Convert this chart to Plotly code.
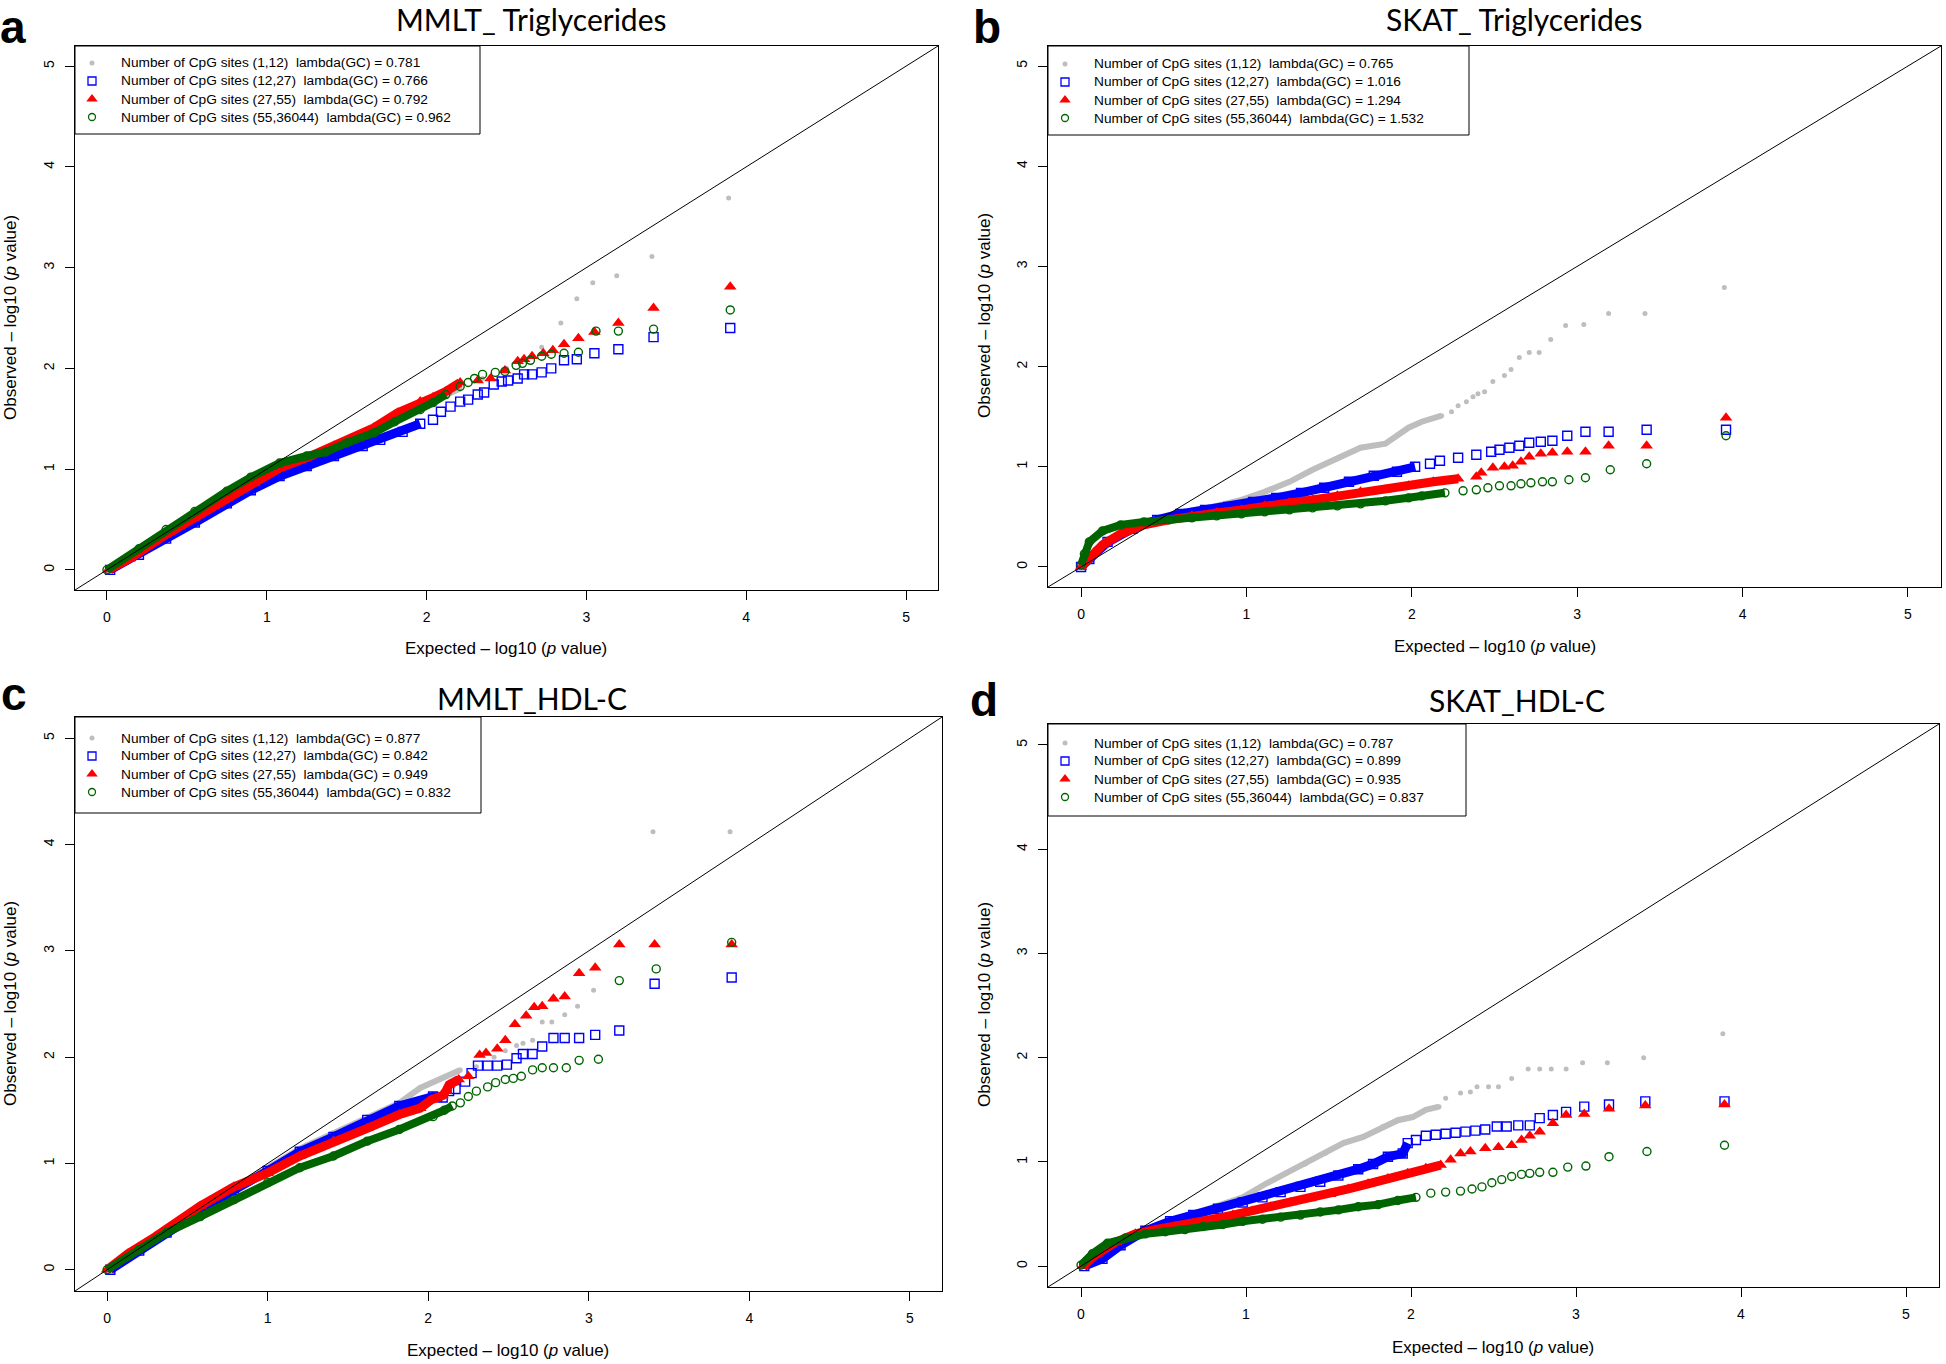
import plotly.graph_objects as go

W, H = 1946, 1364

# ---------------- data ----------------
PANEL_KEYS = ["a", "b", "c", "d"]
PANEL_TITLES = ["MMLT_ Triglycerides", "SKAT_ Triglycerides", "MMLT_HDL-C", "SKAT_HDL-C"]
SERIES_BINS = ["(1,12)", "(12,27)", "(27,55)", "(55,36044)"]
LAMBDA_A = ["0.781", "0.766", "0.792", "0.962"]
LAMBDA_B = ["0.765", "1.016", "1.294", "1.532"]
LAMBDA_C = ["0.877", "0.842", "0.949", "0.832"]
LAMBDA_D = ["0.787", "0.899", "0.935", "0.837"]
AXIS_TICKS = [0, 1, 2, 3, 4, 5]
AXIS_RANGE = [-0.2, 5.2]
X_TITLE = "Expected \u2013 log10 (<i>p</i> value)"
Y_TITLE = "Observed \u2013 log10 (<i>p</i> value)"

# panel a : MMLT_ Triglycerides
A_GRAY_X = [0.0, 0.2, 0.37, 0.55, 0.75, 0.9, 1.08, 1.25, 1.42, 1.6, 1.71, 1.85, 1.96, 2.1, 2.21, 2.35, 2.5, 2.62, 2.72, 2.84, 2.94, 3.04, 3.19, 3.41, 3.89]
A_GRAY_Y = [0.0, 0.17, 0.33, 0.50, 0.69, 0.83, 0.97, 1.08, 1.20, 1.33, 1.40, 1.52, 1.60, 1.72, 1.80, 1.90, 2.0, 2.08, 2.21, 2.45, 2.69, 2.85, 2.92, 3.11, 3.69]
A_BLUE_X = [0.02, 0.2, 0.37, 0.55, 0.75, 0.9, 1.08, 1.25, 1.42, 1.6, 1.71, 1.85, 1.96, 2.04, 2.09, 2.15, 2.21, 2.26, 2.32, 2.36, 2.42, 2.47, 2.51, 2.57, 2.61, 2.66, 2.72, 2.78, 2.86, 2.94, 3.05, 3.20, 3.42, 3.90]
A_BLUE_Y = [0.0, 0.15, 0.31, 0.47, 0.66, 0.79, 0.93, 1.03, 1.13, 1.23, 1.29, 1.37, 1.45, 1.49, 1.57, 1.62, 1.67, 1.69, 1.74, 1.76, 1.84, 1.87, 1.88, 1.90, 1.94, 1.94, 1.96, 2.00, 2.08, 2.09, 2.15, 2.19, 2.31, 2.40]
A_RED_X = [0.01, 0.14, 0.37, 0.55, 0.75, 0.92, 1.08, 1.26, 1.42, 1.59, 1.67, 1.82, 1.96, 2.04, 2.12, 2.21, 2.32, 2.40, 2.49, 2.57, 2.61, 2.66, 2.73, 2.79, 2.86, 2.95, 3.05, 3.20, 3.42, 3.90]
A_RED_Y = [0.0, 0.11, 0.35, 0.52, 0.71, 0.86, 1.01, 1.12, 1.23, 1.34, 1.41, 1.56, 1.67, 1.71, 1.77, 1.86, 1.88, 1.90, 1.98, 2.07, 2.09, 2.12, 2.15, 2.18, 2.24, 2.30, 2.36, 2.45, 2.60, 2.81]
A_GREEN_X = [0.0, 0.2, 0.37, 0.55, 0.75, 0.9, 1.08, 1.25, 1.37, 1.5, 1.67, 1.8, 1.96, 2.04, 2.12, 2.21, 2.26, 2.30, 2.35, 2.43, 2.49, 2.56, 2.60, 2.65, 2.72, 2.78, 2.86, 2.95, 3.06, 3.20, 3.42, 3.90]
A_GREEN_Y = [0.0, 0.21, 0.40, 0.58, 0.78, 0.92, 1.06, 1.13, 1.17, 1.26, 1.36, 1.47, 1.59, 1.66, 1.74, 1.82, 1.86, 1.90, 1.94, 1.96, 1.97, 2.03, 2.05, 2.08, 2.12, 2.14, 2.15, 2.16, 2.37, 2.37, 2.39, 2.58]

# panel b : SKAT_ Triglycerides
B_GRAY_X = [0.0, 0.05, 0.16, 0.31, 0.46, 0.60, 0.82, 0.97, 1.11, 1.26, 1.40, 1.55, 1.69, 1.84, 1.91, 1.98, 2.06, 2.18, 2.24, 2.28, 2.33, 2.37, 2.40, 2.44, 2.49, 2.56, 2.60, 2.65, 2.71, 2.77, 2.84, 2.93, 3.04, 3.19, 3.41, 3.89]
B_GRAY_Y = [0.0, 0.06, 0.22, 0.37, 0.47, 0.54, 0.61, 0.67, 0.75, 0.85, 0.97, 1.08, 1.19, 1.23, 1.31, 1.39, 1.45, 1.51, 1.55, 1.61, 1.65, 1.70, 1.73, 1.75, 1.85, 1.91, 1.97, 2.09, 2.14, 2.14, 2.27, 2.41, 2.42, 2.53, 2.53, 2.79]
B_BLUE_X = [0.0, 0.05, 0.16, 0.31, 0.46, 0.60, 0.75, 0.89, 1.04, 1.18, 1.33, 1.47, 1.62, 1.77, 1.91, 2.02, 2.11, 2.17, 2.28, 2.39, 2.48, 2.53, 2.59, 2.65, 2.71, 2.78, 2.85, 2.94, 3.05, 3.19, 3.42, 3.90]
B_BLUE_Y = [0.0, 0.08, 0.25, 0.38, 0.47, 0.53, 0.57, 0.60, 0.65, 0.69, 0.74, 0.79, 0.85, 0.91, 0.95, 1.00, 1.03, 1.06, 1.09, 1.12, 1.15, 1.17, 1.19, 1.21, 1.24, 1.25, 1.26, 1.31, 1.35, 1.35, 1.37, 1.37]
B_RED_X = [0.0, 0.08, 0.13, 0.24, 0.38, 0.53, 0.67, 0.82, 0.97, 1.11, 1.26, 1.40, 1.55, 1.69, 1.84, 1.98, 2.13, 2.28, 2.39, 2.42, 2.49, 2.56, 2.61, 2.66, 2.71, 2.78, 2.85, 2.94, 3.05, 3.19, 3.42, 3.90]
B_RED_Y = [0.0, 0.15, 0.22, 0.33, 0.42, 0.47, 0.51, 0.54, 0.57, 0.61, 0.64, 0.67, 0.71, 0.75, 0.77, 0.81, 0.85, 0.88, 0.90, 0.94, 0.99, 1.00, 1.01, 1.05, 1.10, 1.13, 1.14, 1.15, 1.15, 1.21, 1.21, 1.49]
B_GREEN_X = [0.0, 0.02, 0.05, 0.13, 0.24, 0.38, 0.53, 0.67, 0.82, 0.97, 1.11, 1.26, 1.40, 1.55, 1.69, 1.84, 1.98, 2.06, 2.20, 2.31, 2.39, 2.46, 2.53, 2.60, 2.66, 2.72, 2.79, 2.85, 2.95, 3.05, 3.20, 3.42, 3.90]
B_GREEN_Y = [0.02, 0.13, 0.25, 0.36, 0.42, 0.45, 0.47, 0.49, 0.51, 0.53, 0.55, 0.57, 0.59, 0.61, 0.63, 0.66, 0.69, 0.71, 0.74, 0.76, 0.77, 0.79, 0.81, 0.81, 0.83, 0.84, 0.85, 0.85, 0.87, 0.89, 0.97, 1.03, 1.31]

# panel c : MMLT_HDL-C
C_GRAY_X = [0.0, 0.13, 0.30, 0.47, 0.63, 0.79, 0.97, 1.20, 1.41, 1.62, 1.82, 1.95, 2.08, 2.20, 2.30, 2.41, 2.48, 2.55, 2.59, 2.65, 2.71, 2.77, 2.85, 2.93, 3.03, 3.40, 3.88]
C_GRAY_Y = [0.0, 0.11, 0.27, 0.42, 0.58, 0.78, 0.93, 1.14, 1.29, 1.44, 1.57, 1.71, 1.80, 1.88, 1.91, 2.00, 2.06, 2.11, 2.13, 2.16, 2.33, 2.33, 2.40, 2.48, 2.63, 4.12, 4.12]
C_BLUE_X = [0.02, 0.2, 0.37, 0.58, 0.79, 1.00, 1.20, 1.41, 1.62, 1.82, 2.03, 2.09, 2.13, 2.17, 2.23, 2.27, 2.31, 2.37, 2.43, 2.49, 2.55, 2.59, 2.65, 2.71, 2.78, 2.85, 2.94, 3.04, 3.19, 3.41, 3.89]
C_BLUE_Y = [0.0, 0.18, 0.35, 0.55, 0.75, 0.93, 1.11, 1.25, 1.41, 1.54, 1.63, 1.62, 1.68, 1.70, 1.77, 1.85, 1.92, 1.92, 1.92, 1.93, 1.99, 2.03, 2.03, 2.10, 2.18, 2.18, 2.18, 2.21, 2.25, 2.69, 2.75]
C_RED_X = [0.0, 0.13, 0.30, 0.37, 0.58, 0.79, 1.00, 1.20, 1.41, 1.62, 1.82, 1.95, 2.02, 2.09, 2.11, 2.13, 2.19, 2.25, 2.32, 2.36, 2.43, 2.48, 2.54, 2.61, 2.66, 2.71, 2.78, 2.85, 2.94, 3.04, 3.19, 3.41, 3.89]
C_RED_Y = [0.0, 0.15, 0.31, 0.38, 0.60, 0.78, 0.91, 1.07, 1.21, 1.33, 1.46, 1.52, 1.60, 1.64, 1.68, 1.74, 1.79, 1.82, 2.02, 2.04, 2.08, 2.16, 2.31, 2.39, 2.47, 2.48, 2.55, 2.57, 2.79, 2.84, 3.06, 3.06, 3.06]
C_GREEN_X = [0.0, 0.2, 0.37, 0.58, 0.79, 1.00, 1.20, 1.41, 1.62, 1.82, 2.03, 2.10, 2.15, 2.20, 2.25, 2.30, 2.37, 2.42, 2.48, 2.53, 2.58, 2.65, 2.71, 2.78, 2.86, 2.94, 3.06, 3.19, 3.42, 3.89]
C_GREEN_Y = [0.0, 0.19, 0.35, 0.50, 0.66, 0.82, 0.96, 1.07, 1.21, 1.32, 1.44, 1.50, 1.54, 1.57, 1.63, 1.68, 1.72, 1.76, 1.79, 1.80, 1.82, 1.88, 1.90, 1.90, 1.90, 1.97, 1.98, 2.72, 2.83, 3.08]

# panel d : SKAT_HDL-C
D_GRAY_X = [0.01, 0.10, 0.24, 0.39, 0.54, 0.68, 0.83, 0.98, 1.12, 1.24, 1.36, 1.48, 1.59, 1.71, 1.83, 1.92, 2.01, 2.09, 2.17, 2.21, 2.30, 2.36, 2.40, 2.47, 2.53, 2.61, 2.71, 2.78, 2.85, 2.94, 3.04, 3.19, 3.41, 3.89]
D_GRAY_Y = [0.0, 0.07, 0.20, 0.34, 0.43, 0.50, 0.57, 0.66, 0.79, 0.89, 0.98, 1.08, 1.18, 1.24, 1.34, 1.40, 1.43, 1.50, 1.53, 1.61, 1.66, 1.67, 1.72, 1.72, 1.72, 1.80, 1.89, 1.89, 1.89, 1.89, 1.95, 1.95, 2.00, 2.23]
D_BLUE_X = [0.02, 0.13, 0.24, 0.39, 0.54, 0.68, 0.83, 0.98, 1.10, 1.21, 1.33, 1.45, 1.56, 1.68, 1.77, 1.86, 1.95, 1.98, 2.03, 2.09, 2.15, 2.21, 2.27, 2.33, 2.39, 2.45, 2.52, 2.58, 2.65, 2.72, 2.78, 2.86, 2.94, 3.05, 3.20, 3.42, 3.90]
D_BLUE_Y = [0.0, 0.07, 0.20, 0.34, 0.43, 0.49, 0.55, 0.61, 0.66, 0.71, 0.76, 0.81, 0.87, 0.93, 0.98, 1.05, 1.08, 1.18, 1.21, 1.25, 1.26, 1.27, 1.28, 1.29, 1.30, 1.31, 1.34, 1.34, 1.35, 1.35, 1.42, 1.45, 1.48, 1.53, 1.55, 1.58, 1.58]
D_RED_X = [0.01, 0.10, 0.21, 0.33, 0.45, 0.57, 0.68, 0.80, 0.92, 1.04, 1.15, 1.27, 1.39, 1.51, 1.62, 1.74, 1.86, 1.98, 2.09, 2.18, 2.24, 2.30, 2.36, 2.45, 2.53, 2.61, 2.67, 2.72, 2.78, 2.86, 2.94, 3.05, 3.20, 3.42, 3.90]
D_RED_Y = [0.0, 0.12, 0.23, 0.31, 0.35, 0.38, 0.41, 0.45, 0.49, 0.53, 0.57, 0.61, 0.65, 0.69, 0.74, 0.79, 0.84, 0.89, 0.94, 0.97, 1.02, 1.08, 1.10, 1.13, 1.14, 1.16, 1.21, 1.25, 1.29, 1.37, 1.45, 1.46, 1.51, 1.54, 1.55]
D_GREEN_X = [0.0, 0.07, 0.16, 0.27, 0.39, 0.51, 0.63, 0.74, 0.86, 0.98, 1.10, 1.21, 1.33, 1.45, 1.56, 1.68, 1.80, 1.92, 2.03, 2.12, 2.21, 2.30, 2.37, 2.43, 2.49, 2.55, 2.61, 2.67, 2.72, 2.78, 2.86, 2.95, 3.06, 3.20, 3.43, 3.90]
D_GREEN_Y = [0.01, 0.12, 0.22, 0.27, 0.31, 0.33, 0.35, 0.38, 0.40, 0.43, 0.45, 0.47, 0.49, 0.52, 0.54, 0.57, 0.59, 0.63, 0.66, 0.70, 0.71, 0.72, 0.74, 0.76, 0.80, 0.83, 0.86, 0.88, 0.89, 0.90, 0.90, 0.95, 0.96, 1.05, 1.10, 1.16]

DATA = {
    "a": [(A_GRAY_X, A_GRAY_Y), (A_BLUE_X, A_BLUE_Y), (A_RED_X, A_RED_Y), (A_GREEN_X, A_GREEN_Y)],
    "b": [(B_GRAY_X, B_GRAY_Y), (B_BLUE_X, B_BLUE_Y), (B_RED_X, B_RED_Y), (B_GREEN_X, B_GREEN_Y)],
    "c": [(C_GRAY_X, C_GRAY_Y), (C_BLUE_X, C_BLUE_Y), (C_RED_X, C_RED_Y), (C_GREEN_X, C_GREEN_Y)],
    "d": [(D_GRAY_X, D_GRAY_Y), (D_BLUE_X, D_BLUE_Y), (D_RED_X, D_RED_Y), (D_GREEN_X, D_GREEN_Y)],
}
LAMBDAS = {"a": LAMBDA_A, "b": LAMBDA_B, "c": LAMBDA_C, "d": LAMBDA_D}

# ---------------- styles / layout ----------------
COLORS = ["#BEBEBE", "#0000FF", "#FF0000", "#006400"]
SYMBOLS = ["circle", "square-open", "triangle-up", "circle-open"]
MSIZES = [5, 9, 11, 8]
LEG_MSIZES = [5, 8, 10, 7]
BAND_W = [6, 9, 9, 8]
BAND_END = {"a": [2.3, 2.0, 2.25, 2.2], "b": [2.2, 2.1, 2.3, 2.2],
            "c": [2.2, 2.1, 2.2, 2.15], "d": [2.2, 2.0, 2.2, 2.05]}
# plot boxes in pixels: left, top, right, bottom
BOXES = {"a": (75, 46, 938, 590), "b": (1048, 46, 1941, 587),
         "c": (75, 717, 942, 1291), "d": (1048, 724, 1939, 1287)}
LEG_RIGHT = {"a": 480, "b": 1469, "c": 481, "d": 1466}
LEG_BOTTOM = {"a": 134, "b": 135, "c": 813, "d": 816}
LEG_ROW0 = {"a": 63, "b": 64, "c": 738, "d": 743}
LEG_STEP = 18
LEG_MARK_DX = 17
LEG_TEXT_DX = 44
TITLE_POS = {"a": (531, 19), "b": (1514, 19), "c": (532, 698), "d": (1517, 700)}
LETTER_POS = {"a": (13, 27), "b": (987, 27), "c": (14, 694), "d": (984, 700)}
XT_POS = {"a": (506, 648), "b": (1495, 646), "c": (508, 1350), "d": (1493, 1347)}
YT_POS = {"a": (10, 318), "b": (984, 316), "c": (10, 1004), "d": (984, 1005)}

FONT = "Liberation Sans, Arial, sans-serif"
TITLE_FONT = "Lato, Open Sans, sans-serif"


def px(x):
    return x / W


def py(y):
    return 1 - y / H


fig = go.Figure()
layout = dict(width=W, height=H, margin=dict(l=0, r=0, t=0, b=0), autosize=False,
              paper_bgcolor="white", plot_bgcolor="rgba(0,0,0,0)", showlegend=False)
shapes, annotations = [], []

# overlay axes in pixel units, used only for the hand-drawn legend symbols
layout["xaxis5"] = dict(domain=[0, 1], range=[0, W], visible=False, fixedrange=True, anchor="y5")
layout["yaxis5"] = dict(domain=[0, 1], range=[H, 0], visible=False, fixedrange=True, anchor="x5")

for i, k in enumerate(PANEL_KEYS):
    n = "" if i == 0 else str(i + 1)
    xa, ya = "x" + n, "y" + n
    L, T, R, B = BOXES[k]
    axis_common = dict(range=AXIS_RANGE, tickmode="array", tickvals=AXIS_TICKS,
                       ticks="outside", ticklen=9, tickwidth=1, tickcolor="black",
                       showline=True, linecolor="black", linewidth=1, mirror=True,
                       showgrid=False, zeroline=False, fixedrange=True,
                       tickfont=dict(family=FONT, size=14, color="black"),
                       ticklabelstandoff=5)
    layout["xaxis" + n] = dict(axis_common, domain=[px(L), px(R)], anchor=ya)
    layout["yaxis" + n] = dict(axis_common, domain=[py(B), py(T)], anchor=xa, tickangle=-90)

    for s, (xs, ys) in enumerate(DATA[k]):
        cut = BAND_END[k][s]
        bx = [x for x in xs if x <= cut]
        by = [y for x, y in zip(xs, ys) if x <= cut]
        fig.add_trace(go.Scatter(x=bx, y=by, mode="lines", xaxis=xa, yaxis=ya,
                                 line=dict(color=COLORS[s], width=BAND_W[s]),
                                 showlegend=False, hoverinfo="skip"))
        lw = 1.4 if "open" in SYMBOLS[s] else 0
        fig.add_trace(go.Scatter(
            x=xs, y=ys, mode="markers", xaxis=xa, yaxis=ya,
            marker=dict(symbol=SYMBOLS[s], size=MSIZES[s], color=COLORS[s],
                        line=dict(color=COLORS[s], width=lw)),
            name="Number of CpG sites " + SERIES_BINS[s], showlegend=False))

    # diagonal y = x across the whole plotting region
    shapes.append(dict(type="line", xref=xa, yref=ya, x0=AXIS_RANGE[0], y0=AXIS_RANGE[0],
                       x1=AXIS_RANGE[1], y1=AXIS_RANGE[1], line=dict(color="black", width=1),
                       layer="above"))
    # legend box
    shapes.append(dict(type="rect", xref="paper", yref="paper", x0=px(L), y0=py(LEG_BOTTOM[k]),
                       x1=px(LEG_RIGHT[k]), y1=py(T), line=dict(color="black", width=1),
                       fillcolor="rgba(0,0,0,0)", layer="above"))
    # legend rows
    for s in range(4):
        ry = LEG_ROW0[k] + s * LEG_STEP
        lw = 1.3 if "open" in SYMBOLS[s] else 0
        fig.add_trace(go.Scatter(
            x=[L + LEG_MARK_DX], y=[ry], mode="markers", xaxis="x5", yaxis="y5",
            marker=dict(symbol=SYMBOLS[s], size=LEG_MSIZES[s], color=COLORS[s],
                        line=dict(color=COLORS[s], width=lw)),
            showlegend=False, hoverinfo="skip"))
        annotations.append(dict(
            text="Number of CpG sites " + SERIES_BINS[s] + " \u00a0lambda(GC) = " + LAMBDAS[k][s],
            x=px(L + LEG_TEXT_DX), y=py(ry), xref="paper", yref="paper",
            xanchor="left", yanchor="middle", showarrow=False,
            font=dict(family=FONT, size=13.7, color="black")))

    tx, ty = TITLE_POS[k]
    annotations.append(dict(text=PANEL_TITLES[i], x=px(tx), y=py(ty), xref="paper", yref="paper",
                            xanchor="center", yanchor="middle", showarrow=False,
                            font=dict(family=TITLE_FONT, size=30, color="black")))
    lx, ly = LETTER_POS[k]
    annotations.append(dict(text="<b>" + k + "</b>", x=px(lx), y=py(ly), xref="paper", yref="paper",
                            xanchor="center", yanchor="middle", showarrow=False,
                            font=dict(family=FONT, size=46, color="black")))
    xx, xy = XT_POS[k]
    annotations.append(dict(text=X_TITLE, x=px(xx), y=py(xy), xref="paper", yref="paper",
                            xanchor="center", yanchor="middle", showarrow=False,
                            font=dict(family=FONT, size=17, color="black")))
    yx, yy = YT_POS[k]
    annotations.append(dict(text=Y_TITLE, x=px(yx), y=py(yy), xref="paper", yref="paper",
                            xanchor="center", yanchor="middle", showarrow=False, textangle=-90,
                            font=dict(family=FONT, size=17, color="black")))

layout["shapes"] = shapes
layout["annotations"] = annotations
fig.update_layout(**layout)
fig.write_html("out.html", config={"displayModeBar": False},
               post_script="document.body.style.margin='0px';")
